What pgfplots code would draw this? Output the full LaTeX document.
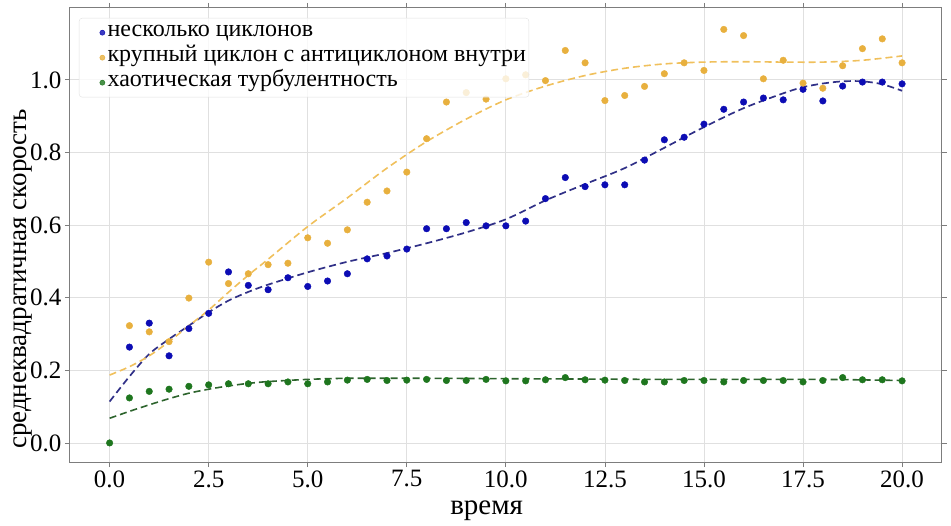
\documentclass[border=0pt]{standalone}
\usepackage{fontspec}
\setmainfont{Liberation Serif}
\usepackage{pgfplots}
\pgfplotsset{compat=1.18}
\definecolor{cblue}{RGB}{12,12,180}
\definecolor{cbluel}{RGB}{48,48,135}
\definecolor{corange}{RGB}{232,176,62}
\definecolor{corangel}{RGB}{240,192,92}
\definecolor{cgreen}{RGB}{30,118,30}
\definecolor{cgreenl}{RGB}{45,100,45}
\definecolor{cgrid}{RGB}{224,224,224}
\definecolor{cframe}{RGB}{125,125,125}
\begin{document}
\begin{tikzpicture}
\useasboundingbox (-70bp,-64bp) rectangle (881bp,462bp);
\begin{axis}[
  scale only axis,
  width=871.7bp, height=454bp,
  xmin=-1, xmax=21, ymin=-0.0525, ymax=1.198,
  xtick={0,2.5,5,7.5,10,12.5,15,17.5,20},
  ytick={0,0.2,0.4,0.6,0.8,1.0},
  /pgf/number format/assume math mode=true,
  xticklabel style={/pgf/number format/fixed,/pgf/number format/fixed zerofill,/pgf/number format/precision=1,font=\fontsize{25bp}{28bp}\selectfont},
  yticklabel style={/pgf/number format/fixed,/pgf/number format/fixed zerofill,/pgf/number format/precision=1,font=\fontsize{25bp}{28bp}\selectfont},
  grid=major,
  major grid style={cgrid, line width=0.8bp},
  axis line style={cframe, line width=1bp},
  tick align=outside,
  major tick length=5bp,
  tick style={cframe, line width=0.8bp},
  xlabel={время},
  ylabel={среднеквадратичная скорость},
  xlabel style={font=\fontsize{29bp}{30bp}\selectfont, at={(axis description cs:0.478,-0.108)}, anchor=center},
  ylabel style={font=\fontsize{27bp}{30bp}\selectfont, at={(axis description cs:-0.054,0.403)}, anchor=center},
  legend style={at={(axis description cs:0.0103,0.978)}, anchor=north west,
    draw=cgrid, fill=white, fill opacity=0.8, text opacity=1,
    font=\fontsize{24bp}{25bp}\selectfont, rounded corners=3bp,
    row sep=0bp, inner xsep=2bp, inner ysep=2bp,
    nodes={text height=15bp, text depth=8bp, inner sep=1bp}},
  legend cell align=left,
  legend image code/.code={\path (0bp,0bp) (25bp,0bp); \draw[mark size=2.6bp] plot coordinates {(21bp,0bp)};},
]
% fitted curves
\addplot[cbluel, dashed, dash pattern=on 7bp off 4bp, line width=1.7bp, smooth, forget plot] coordinates {
(0,0.114) (0.5,0.183) (1,0.245) (1.5,0.286) (2,0.323) (2.5,0.360) (3,0.392) (3.5,0.416) (4,0.436) (5,0.470) (6,0.499) (7,0.523) (8,0.550) (9,0.580) (10,0.616) (11,0.668) (12,0.713) (13,0.757) (14,0.813) (15,0.870) (16,0.922) (17,0.963) (17.5,0.980) (18,0.990) (18.5,0.996) (19,0.996) (19.5,0.988) (20,0.970)};
\addplot[corangel, dashed, dash pattern=on 7bp off 4bp, line width=1.6bp, smooth, forget plot] coordinates {
(0,0.187) (0.5,0.210) (1,0.240) (1.5,0.279) (2,0.323) (2.5,0.366) (3,0.415) (3.5,0.462) (4,0.506) (5,0.596) (6,0.675) (7,0.757) (8,0.830) (9,0.892) (10,0.945) (11,0.983) (12,1.012) (13,1.032) (14,1.044) (15,1.049) (16,1.050) (17,1.049) (18,1.049) (19,1.054) (20,1.066)};
\addplot[cgreenl, dashed, dash pattern=on 7bp off 4bp, line width=1.6bp, smooth, forget plot] coordinates {
(0,0.068) (0.5,0.087) (1,0.105) (1.5,0.122) (2,0.137) (2.5,0.148) (3,0.157) (3.5,0.164) (4,0.169) (5,0.175) (6,0.178) (8,0.178) (10,0.177) (12,0.176) (14,0.175) (16,0.175) (18,0.175) (20,0.172)};
% data points
\addplot[only marks, mark=*, mark size=3.3bp, cblue, mark options={draw=none, fill=cblue}] coordinates {
(0.5,0.264) (1.0,0.330) (1.5,0.240) (2.0,0.315) (2.5,0.357) (3.0,0.471) (3.5,0.434) (4.0,0.422) (4.5,0.455) (5.0,0.431) (5.5,0.446) (6.0,0.466) (6.5,0.507) (7.0,0.515) (7.5,0.534) (8.0,0.590) (8.5,0.590) (9.0,0.607) (9.5,0.598) (10.0,0.598) (10.5,0.611) (11.0,0.673) (11.5,0.731) (12.0,0.706) (12.5,0.711) (13.0,0.711) (13.5,0.779) (14.0,0.835) (14.5,0.842) (15.0,0.878) (15.5,0.919) (16.0,0.939) (16.5,0.950) (17.0,0.945) (17.5,0.974) (18.0,0.942) (18.5,0.983) (19.0,0.994) (19.5,0.994) (20.0,0.989)};
\addlegendentry{несколько циклонов}
\addplot[only marks, mark=*, mark size=3.3bp, corange, mark options={draw=none, fill=corange}] coordinates {
(0.5,0.323) (1.0,0.306) (1.5,0.279) (2.0,0.399) (2.5,0.498) (3.0,0.439) (3.5,0.466) (4.0,0.491) (4.5,0.495) (5.0,0.565) (5.5,0.550) (6.0,0.587) (6.5,0.663) (7.0,0.694) (7.5,0.746) (8.0,0.838) (8.5,0.939) (9.0,0.965) (9.5,0.947) (10.0,1.003) (10.5,1.014) (11.0,0.998) (11.5,1.081) (12.0,1.047) (12.5,0.943) (13.0,0.957) (13.5,0.982) (14.0,1.017) (14.5,1.047) (15.0,1.026) (15.5,1.139) (16.0,1.122) (16.5,1.003) (17.0,1.054) (17.5,0.991) (18.0,0.977) (18.5,1.039) (19.0,1.086) (19.5,1.113) (20.0,1.047)};
\addlegendentry{крупный циклон с антициклоном внутри}
\addplot[only marks, mark=*, mark size=3.3bp, cgreen, mark options={draw=none, fill=cgreen}] coordinates {
(0.0,0.000) (0.5,0.124) (1.0,0.142) (1.5,0.148) (2.0,0.156) (2.5,0.160) (3.0,0.163) (3.5,0.163) (4.0,0.163) (4.5,0.168) (5.0,0.163) (5.5,0.168) (6.0,0.173) (6.5,0.175) (7.0,0.172) (7.5,0.173) (8.0,0.175) (8.5,0.172) (9.0,0.172) (9.5,0.175) (10.0,0.171) (10.5,0.171) (11.0,0.174) (11.5,0.180) (12.0,0.174) (12.5,0.173) (13.0,0.172) (13.5,0.168) (14.0,0.168) (14.5,0.172) (15.0,0.172) (15.5,0.168) (16.0,0.172) (16.5,0.172) (17.0,0.172) (17.5,0.168) (18.0,0.172) (18.5,0.180) (19.0,0.174) (19.5,0.174) (20.0,0.171)};
\addlegendentry{хаотическая турбулентность}
\end{axis}
\end{tikzpicture}
\end{document}
